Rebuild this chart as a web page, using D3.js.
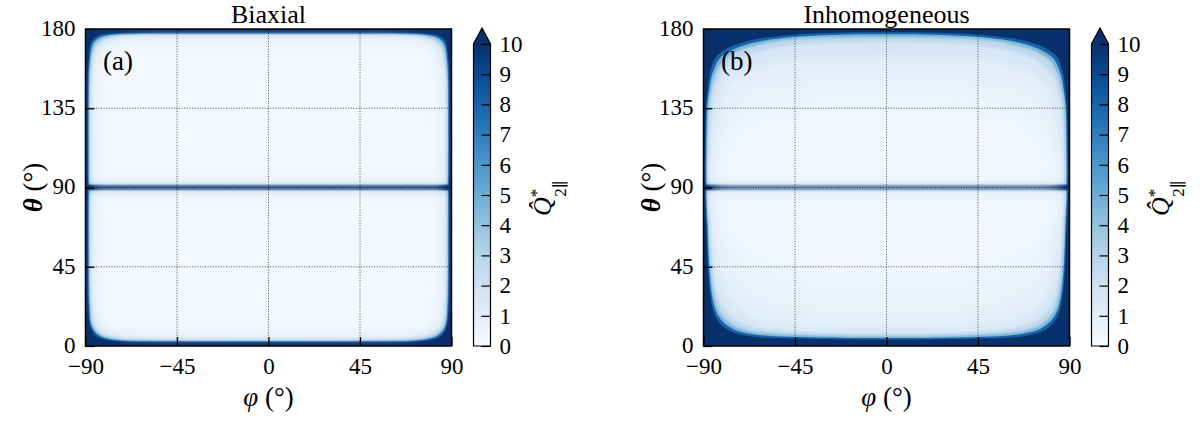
<!DOCTYPE html>
<html>
<head>
<meta charset="utf-8">
<script src="https://cdn.jsdelivr.net/npm/d3@7"></script>
<style>
  body { margin: 0; background: #fff; }
  svg { display: block; }
</style>
</head>
<body>
<div id="chart"></div>
<script>
// tick values
const phiTicks = [-90, -45, 0, 45, 90];
const thetaTicks = [0, 45, 90, 135, 180];
const cbarTicks = [0, 1, 2, 3, 4, 5, 6, 7, 8, 9, 10];
const panelTitles = ["Biaxial", "Inhomogeneous"];
const panelTags = ["(a)", "(b)"];

// contour levels of Q (region inside a contour has Q below the level)
const contourLevels = [10, 6, 3.5, 2, 1.3, 0.8, 0.5];
// Q value used between one level and the next
const bandValues = [8, 4.7, 2.7, 1.6, 1.0, 0.65];
// Q value in the middle of each half [upper, lower]
const interiorValues = [[0.25, 0.25], [0.3, 0.3]];

// contour lines: left quarter, [phi, theta] from the
// theta = 90 side up/down to phi = 0 (the maps are mirror symmetric in phi)
const biaxialUpper = [
  [[-88.8, 91.4], [-88.7, 150], [-88.4, 163], [-87.2, 172.5], [-84.5, 175.8], [-79.5, 177.1], [-70, 177.6], [-40, 177.8], [0, 177.8]],
  [[-88.3, 91.8], [-88.2, 150], [-87.8, 162], [-86.4, 171.5], [-83.5, 174.9], [-78.5, 176.4], [-69, 177.0], [-40, 177.2], [0, 177.2]],
  [[-87.7, 92.2], [-87.6, 150], [-87.1, 161], [-85.5, 170.5], [-82.5, 174.0], [-77.5, 175.7], [-68, 176.4], [-40, 176.6], [0, 176.6]],
  [[-87.0, 92.6], [-86.9, 150], [-86.3, 160], [-84.5, 169.3], [-81.3, 173.0], [-76.3, 174.9], [-67, 175.7], [-40, 175.9], [0, 175.9]],
  [[-86.0, 93.1], [-86.0, 150], [-85.2, 159], [-83.2, 168], [-80, 171.8], [-75, 173.8], [-66, 174.8], [-40, 175.0], [0, 175.0]],
  [[-84.8, 93.8], [-84.8, 150], [-83.8, 158], [-81.5, 166.5], [-78.2, 170.3], [-73.3, 172.6], [-64.5, 173.7], [-40, 174.0], [0, 174.0]]
];
const biaxialLower = [
  [[-88.8, 88.6], [-88.7, 35], [-88.5, 25], [-87.8, 12], [-85.3, 6.2], [-81.2, 3.8], [-73, 2.7], [-50, 2.4], [0, 2.3]],
  [[-88.3, 88.2], [-88.2, 35], [-88.0, 24], [-87.0, 11.5], [-84.3, 6.8], [-80.2, 4.5], [-72, 3.3], [-50, 3.0], [0, 2.9]],
  [[-87.7, 87.8], [-87.6, 35], [-87.3, 23], [-86.2, 11.5], [-83.4, 7.4], [-79.2, 5.2], [-71, 4.0], [-50, 3.6], [0, 3.5]],
  [[-87.0, 87.4], [-86.9, 35], [-86.5, 22.5], [-85.2, 12], [-82.3, 8.2], [-78, 6.0], [-70, 4.8], [-50, 4.4], [0, 4.3]],
  [[-86.0, 86.9], [-86.0, 35], [-85.5, 22], [-84, 12.8], [-81, 9.2], [-76.5, 7.0], [-68.5, 5.8], [-50, 5.3], [0, 5.2]],
  [[-84.8, 86.2], [-84.8, 35], [-84.2, 22], [-82.5, 14], [-79.3, 10.5], [-74.8, 8.3], [-67, 7.0], [-50, 6.6], [0, 6.5]]
];
const inhomUpper = [
  [[-89, 91.4], [-88.8, 135], [-88, 145], [-87, 154], [-84, 164], [-79, 168.5], [-74.5, 171], [-67, 173.5], [-60, 175], [-45, 176.8], [-25, 177.9], [0, 178.2]],
  [[-88.5, 91.8], [-88.2, 135], [-87.2, 145], [-85.8, 154], [-82.3, 163], [-77.3, 167.2], [-72.5, 169.8], [-65, 172.3], [-58, 173.9], [-43, 175.8], [-23, 176.8], [0, 177.0]],
  [[-88.0, 92.2], [-87.5, 135], [-86.3, 145], [-84.5, 153.5], [-80.5, 162], [-75.5, 166], [-70.5, 168.6], [-63, 171.1], [-56, 172.8], [-41, 174.6], [-21, 175.3], [0, 175.5]],
  [[-87.3, 92.7], [-86.2, 135], [-84.6, 145], [-82, 153], [-77.5, 159.5], [-72, 163.5], [-65, 166.5], [-55, 169], [-40, 171.3], [-20, 172.5], [0, 172.8]],
  [[-86.3, 93.3], [-85, 120], [-82.5, 135], [-80.5, 144], [-76.5, 151], [-71, 155.5], [-63, 158.8], [-51, 161.5], [-34, 163.2], [0, 164]],
  [[-85, 94], [-83, 115], [-79.5, 128], [-76, 137], [-70, 143], [-61, 147], [-47, 149.5], [-25, 150.5], [0, 151]],
  [[-83, 95], [-79, 108], [-74, 118], [-66, 126], [-52, 131], [-30, 133.5], [0, 134]]
];
const inhomLower = [
  [[-89, 88.6], [-88.5, 70], [-87.8, 45], [-86.8, 30], [-85.3, 20.5], [-83.5, 15.5], [-81.2, 12], [-76.3, 8.1], [-68, 5.7], [-59.8, 4.7], [-45, 4.1], [-20, 3.7], [0, 3.6]],
  [[-88.6, 88.2], [-88, 70], [-87.2, 45], [-86, 30], [-84.3, 21], [-82.3, 16.3], [-79.8, 13], [-74.8, 9.2], [-66.5, 6.8], [-58.5, 5.8], [-44, 5.1], [-20, 4.6], [0, 4.5]],
  [[-88.1, 87.8], [-87.4, 70], [-86.5, 45], [-85.1, 30.5], [-83.2, 21.8], [-81, 17.3], [-78.3, 14], [-73.2, 10.4], [-65, 8], [-57, 7], [-43, 6.2], [-20, 5.6], [0, 5.5]],
  [[-87.5, 87.3], [-86.6, 70], [-85.5, 46], [-83.8, 32], [-81.5, 24], [-79, 19.5], [-76, 16], [-70.5, 12.3], [-62.5, 9.8], [-54.5, 8.6], [-41, 7.6], [-20, 7], [0, 6.9]],
  [[-86.6, 86.9], [-85.3, 70], [-83.8, 48], [-81.5, 36], [-78.5, 28], [-75, 23], [-71, 19], [-64.5, 15], [-56, 12.5], [-45, 11], [-25, 10], [0, 9.8]],
  [[-85.2, 86.2], [-83.3, 70], [-80.5, 52], [-76.5, 41], [-71, 33.5], [-63, 27.5], [-52, 23], [-38, 20.5], [-18, 19.3], [0, 19]],
  [[-83, 85], [-79.5, 70], [-74, 60], [-66, 52], [-54, 45.5], [-38, 41.5], [-18, 40], [0, 39.5]]
];
const upperContours = [biaxialUpper, inhomUpper];
const lowerContours = [biaxialLower, inhomLower];

// layout
const plotLefts = [85.5, 703.5];
const plotTop = 29, plotW = 366, plotH = 317;
const cbarGap = 388, cbarW = 17, cbarTop = 44, cbarTip = 28;
const font = "'Liberation Serif', 'DejaVu Serif', serif";
const blurs = [0.3, 0.5, 0.8, 1.5, 3.5, 6, 9];

const color = d3.scaleSequential(d3.interpolateBlues).domain([0, 10]).clamp(true);

const svg = d3.select("#chart")
    .append("svg")
    .attr("width", 1200)
    .attr("height", 422)
    .style("font-family", font);

const defs = svg.append("defs");
blurs.forEach(function (s, i) {
    defs.append("filter")
        .attr("id", "blur" + i)
        .attr("x", "-20%").attr("y", "-20%")
        .attr("width", "140%").attr("height", "140%")
        .append("feGaussianBlur")
        .attr("stdDeviation", s);
});

// colorbar gradient
const grad = defs.append("linearGradient")
    .attr("id", "cbgrad")
    .attr("x1", 0).attr("y1", 1).attr("x2", 0).attr("y2", 0);
d3.range(0, 10.01, 0.5).forEach(function (v) {
    grad.append("stop").attr("offset", v / 10).attr("stop-color", color(v));
});

plotLefts.forEach(function (left, p) {
    const x = d3.scaleLinear().domain([-90, 90]).range([left, left + plotW]);
    const y = d3.scaleLinear().domain([0, 180]).range([plotTop + plotH, plotTop]);

    defs.append("clipPath").attr("id", "clip" + p)
        .append("rect")
        .attr("x", left).attr("y", plotTop)
        .attr("width", plotW).attr("height", plotH);

    const map = svg.append("g").attr("clip-path", `url(#clip${p})`);
    map.append("rect")
        .attr("x", left).attr("y", plotTop)
        .attr("width", plotW).attr("height", plotH)
        .attr("fill", color(10));

    const line = d3.line()
        .x(d => x(d[0]))
        .y(d => y(d[1]))
        .curve(d3.curveCatmullRom.alpha(0.5));

    [upperContours[p], lowerContours[p]].forEach(function (contours, h) {
        contours.forEach(function (c, k) {
            // mirror the left quarter onto the right side
            const pts = c.concat(c.slice(0, -1).reverse().map(d => [-d[0], d[1]]));
            const v = k + 1 < contours.length ? bandValues[k] : interiorValues[p][h];
            map.append("path")
                .attr("d", line(pts) + "Z")
                .attr("fill", color(v))
                .attr("filter", `url(#blur${k})`);
        });
    });

    // dotted grid
    const grid = svg.append("g")
        .attr("stroke", "#000")
        .attr("stroke-width", 0.8)
        .attr("stroke-opacity", 0.85)
        .attr("stroke-dasharray", "1,1.6");
    grid.selectAll("line.v")
        .data(phiTicks.slice(1, -1))
        .enter().append("line")
        .attr("x1", d => x(d)).attr("x2", d => x(d))
        .attr("y1", y(0)).attr("y2", y(180));
    grid.selectAll("line.h")
        .data(thetaTicks.slice(1, -1))
        .enter().append("line")
        .attr("y1", d => y(d)).attr("y2", d => y(d))
        .attr("x1", x(-90)).attr("x2", x(90));

    // axes with inward ticks
    svg.append("g")
        .attr("transform", `translate(0, ${plotTop + plotH})`)
        .call(d3.axisBottom(x).tickValues(phiTicks).tickFormat(d3.format("d"))
            .tickSizeInner(-9).tickSizeOuter(0).tickPadding(12))
        .call(g => g.select(".domain").remove())
        .attr("font-size", 23).attr("font-family", font)
        .call(g => g.selectAll(".tick line").attr("stroke-width", 1.3));

    svg.append("g")
        .attr("transform", `translate(${left}, 0)`)
        .call(d3.axisLeft(y).tickValues(thetaTicks).tickFormat(d3.format("d"))
            .tickSizeInner(-9).tickSizeOuter(0).tickPadding(10))
        .call(g => g.select(".domain").remove())
        .attr("font-size", 23).attr("font-family", font)
        .call(g => g.selectAll(".tick line").attr("stroke-width", 1.3))
        .call(g => g.selectAll(".tick text").attr("dy", "0.28em"));

    // frame
    svg.append("rect")
        .attr("x", left).attr("y", plotTop)
        .attr("width", plotW).attr("height", plotH)
        .attr("fill", "none").attr("stroke", "#000").attr("stroke-width", 1.5);

    // title, tag, axis labels
    svg.append("text")
        .attr("x", left + plotW / 2).attr("y", 23)
        .attr("text-anchor", "middle").attr("font-size", 26)
        .text(panelTitles[p]);

    svg.append("text")
        .attr("x", left + 17.5).attr("y", 70)
        .attr("font-size", 27)
        .text(panelTags[p]);

    const xl = svg.append("text")
        .attr("x", left + plotW / 2).attr("y", 406)
        .attr("text-anchor", "middle").attr("font-size", 27);
    xl.append("tspan").attr("font-style", "italic").text("φ");
    xl.append("tspan").text(" (°)");

    const yl = svg.append("text")
        .attr("transform", `translate(${left - 44}, ${y(90)}) rotate(-90)`)
        .attr("text-anchor", "middle").attr("font-size", 27);
    yl.append("tspan").attr("font-style", "italic").attr("font-weight", "bold").text("θ");
    yl.append("tspan").text(" (°)");

    // colorbar
    const cbLeft = left + cbarGap;
    const yc = d3.scaleLinear().domain([0, 10]).range([plotTop + plotH, cbarTop]);
    svg.append("rect")
        .attr("x", cbLeft).attr("y", yc(10))
        .attr("width", cbarW).attr("height", yc(0) - yc(10))
        .attr("fill", "url(#cbgrad)");
    svg.append("path")
        .attr("d", `M${cbLeft},${yc(10)}L${cbLeft + cbarW / 2},${cbarTip}L${cbLeft + cbarW},${yc(10)}Z`)
        .attr("fill", color(10));
    svg.append("g")
        .attr("transform", `translate(${cbLeft + cbarW}, 0)`)
        .call(d3.axisRight(yc).tickValues(cbarTicks).tickFormat(d3.format("d"))
            .tickSizeInner(-9).tickSizeOuter(0).tickPadding(9))
        .call(g => g.select(".domain").remove())
        .attr("font-size", 23).attr("font-family", font)
        .call(g => g.selectAll(".tick line").attr("stroke-width", 1.2));
    svg.append("path")
        .attr("d", `M${cbLeft},${yc(0)}V${yc(10)}L${cbLeft + cbarW / 2},${cbarTip}L${cbLeft + cbarW},${yc(10)}V${yc(0)}Z`)
        .attr("fill", "none").attr("stroke", "#000").attr("stroke-width", 1.2);

    const cl = svg.append("text")
        .attr("transform", `translate(${cbLeft + 77.5}, 216) rotate(-90)`)
        .attr("font-size", 26);
    cl.append("tspan").attr("font-style", "italic").text("Q\u0302");
    cl.append("tspan").attr("font-size", 17).attr("dy", -9).text("*");
    cl.append("tspan").attr("font-size", 17).attr("dx", -8).attr("dy", 24).text("2∥");
});
</script>
</body>
</html>
